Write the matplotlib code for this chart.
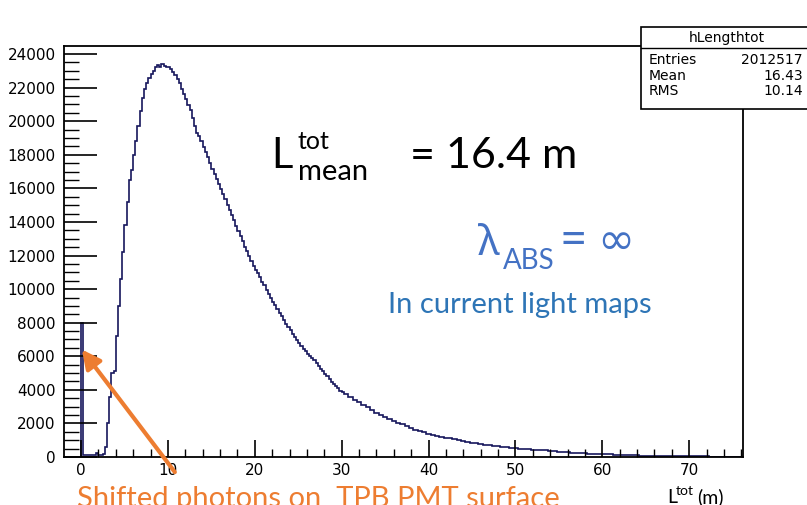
import numpy as np
import matplotlib
matplotlib.use("Agg")
import matplotlib.pyplot as plt
from matplotlib.patches import Rectangle
from matplotlib.lines import Line2D
from matplotlib.ticker import MultipleLocator

W, H = 807, 505

# spike of shifted photons at L = 0
spike_edges = [0.0, 0.25]
spike_count = 8000

# fine part: 0.25 m bins from 0.25 m to 30.25 m
fine_width = 0.25
fine_counts = [
    100, 110, 100, 120, 110, 120, 250, 130, 120, 150,
    600, 2000, 3600, 5000, 5100, 7200, 9000, 10600, 12200, 13800,
    15200, 16500, 17100, 18000, 18800, 19700, 20600, 21400, 21900, 22300,
    22600, 22800, 23000, 23200, 23350, 23250, 23400, 23300, 23250, 23200,
    23100, 22950, 22750, 22500, 22250, 21900, 21650, 21300, 20950, 20650,
    20200, 19700, 19300, 19100, 18800, 18450, 18150, 17850, 17500, 17150,
    16850, 16550, 16250, 15950, 15650, 15350, 15000, 14700, 14400, 14100,
    13750, 13450, 13150, 12850, 12500, 12250, 11950, 11700, 11400, 11150,
    10950, 10700, 10450, 10250, 9950, 9700, 9500, 9250, 9050, 8800,
    8600, 8400, 8150, 7950, 7750, 7550, 7350, 7150, 6950, 6800,
    6600, 6450, 6300, 6150, 6000, 5900, 5750, 5600, 5400, 5250,
    5100, 4950, 4800, 4650, 4450, 4350, 4200, 4100, 3950, 3850,
]

# tail: 0.5 m bins from 30.25 m to 76.25 m
tail_width = 0.5
tail_counts = [
    3750, 3550, 3400, 3250, 3100, 2950, 2800, 2650, 2520, 2400,
    2280, 2170, 2050, 1950, 1850, 1730, 1630, 1540, 1460, 1380,
    1310, 1260, 1210, 1160, 1120, 1070, 1010, 950, 900, 850,
    810, 770, 740, 710, 680, 640, 600, 570, 545, 520,
    500, 480, 460, 440, 425, 410, 390, 365, 345, 325,
    305, 285, 265, 250, 235, 220, 205, 190, 180, 170,
    160, 150, 140, 130, 120, 110, 100, 90, 85, 80,
    75, 70, 68, 65, 62, 60, 57, 55, 52, 50,
    45, 40, 35, 30, 25, 20, 15, 12, 10, 8,
    5, 3,
]

stats_name = "hLengthtot"
stats_rows = [("Entries", "2012517"), ("Mean", "16.43"), ("RMS", "10.14")]

fine_end = spike_edges[1] + fine_width * len(fine_counts)
edges = np.concatenate([
    spike_edges,
    spike_edges[1] + fine_width * np.arange(1, len(fine_counts) + 1),
    fine_end + tail_width * np.arange(1, len(tail_counts) + 1),
])
all_counts = [spike_count] + fine_counts + tail_counts

HIST_COLOR = "#16165c"
ORANGE = "#ED7D31"
BLUE = "#4472C4"
BLUE2 = "#2E75B6"


def fp(x, y):
    # figure pixel (from top-left) -> figure fraction
    return x / W, 1 - y / H


fig = plt.figure(figsize=(W / 100, H / 100), dpi=100)
ax = fig.add_axes([64 / W, 1 - 457 / H, (743 - 64) / W, (457 - 46) / H])

ax.stairs(all_counts, edges, color=HIST_COLOR, lw=1.2)

ax.set_xlim(-1.96, 76.2)
ax.set_ylim(0, 24480)
ax.xaxis.set_major_locator(MultipleLocator(10))
ax.xaxis.set_minor_locator(MultipleLocator(2))
ax.yaxis.set_major_locator(MultipleLocator(2000))
ax.yaxis.set_minor_locator(MultipleLocator(500))
ax.tick_params(axis="y", which="major", direction="in", length=24, width=1.2,
               labelsize=11, pad=6, right=False)
ax.tick_params(axis="y", which="minor", direction="in", length=11, width=1.0, right=False)
ax.tick_params(axis="x", which="major", direction="in", length=12, width=1.2,
               labelsize=11, pad=4, top=False)
ax.tick_params(axis="x", which="minor", direction="in", length=6, width=1.0, top=False)
for s in ax.spines.values():
    s.set_linewidth(1.3)

# arrow pointing at the spike
ax.annotate("", xy=(0.1, 6400), xytext=(10.8, -900),
            arrowprops=dict(arrowstyle="-|>", color=ORANGE, lw=3, mutation_scale=28,
                            shrinkA=0, shrinkB=0),
            annotation_clip=False)

# stats box (ROOT style)
x0, y0 = fp(641, 109)
x1, y1 = fp(815, 27)
fig.add_artist(Rectangle((x0, y0), x1 - x0, y1 - y0, transform=fig.transFigure,
                         facecolor="white", edgecolor="black", lw=1.2, zorder=5))
fig.add_artist(Line2D([x0, x1], [fp(0, 48)[1]] * 2, transform=fig.transFigure,
                      color="black", lw=1.0, zorder=6))
fig.text(*fp(727, 38), stats_name, ha="center", va="center", fontsize=10, zorder=7)
for i, (k, v) in enumerate(stats_rows):
    yy = 60 + i * 15.5
    fig.text(*fp(649, yy), k, ha="left", va="center", fontsize=10, zorder=7)
    fig.text(*fp(803, yy), v, ha="right", va="center", fontsize=10, zorder=7)

# annotations
ff = ["Lato", "DejaVu Sans"]
gf = ["Noto Sans", "DejaVu Sans"]
fig.text(*fp(271, 168), "L", fontsize=30, family=ff, va="baseline")
fig.text(*fp(298, 149), "tot", fontsize=18, family=ff, va="baseline")
fig.text(*fp(298, 180), "mean", fontsize=21, family=ff, va="baseline")
fig.text(*fp(410, 168), "= 16.4 m", fontsize=31, family=ff, va="baseline")

fig.text(*fp(478, 255), "λ", fontsize=30, family=gf, color=BLUE, va="baseline")
fig.text(*fp(503, 269), "ABS", fontsize=20, family=ff, color=BLUE, va="baseline")
fig.text(*fp(561, 254), "= ∞", fontsize=32, family=gf, color=BLUE, va="baseline")
fig.text(*fp(388, 313), "In current light maps", fontsize=21, family=ff,
         color=BLUE2, va="baseline")

fig.text(*fp(77, 507), "Shifted photons on  TPB PMT surface", fontsize=21,
         family=ff, color=ORANGE, va="baseline")

fig.text(*fp(667, 503), "L", fontsize=14, family=ff, va="baseline")
fig.text(*fp(676, 495), "tot", fontsize=10, family=ff, va="baseline")
fig.text(*fp(697, 503), "(m)", fontsize=14, family=ff, va="baseline")

fig.savefig("out.png", dpi=100)
